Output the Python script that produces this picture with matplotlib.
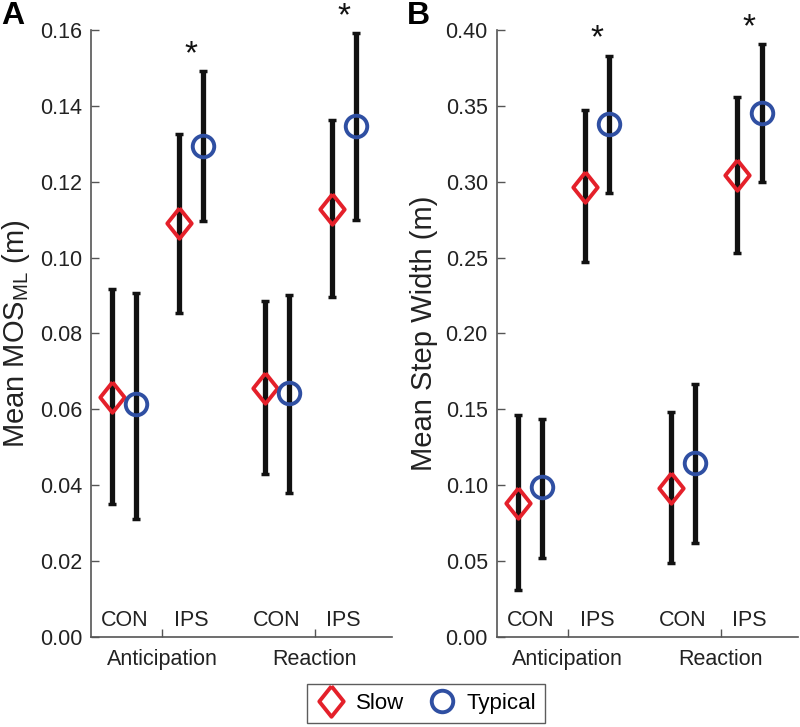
import numpy as np
import matplotlib

matplotlib.use('Agg')
import matplotlib.pyplot as plt
from matplotlib.lines import Line2D
from matplotlib.transforms import blended_transform_factory

plt.rcParams['font.family'] = ['Liberation Sans', 'DejaVu Sans']
plt.rcParams['mathtext.fontset'] = 'custom'
plt.rcParams['mathtext.rm'] = 'Liberation Sans'

# Donnees
conditions = ["CON", "IPS", "CON", "IPS"]
phases = ["Anticipation", "Reaction"]
significant = [False, True, False, True]

# A : MOS medio-lateral (m)
mos_slow_mean = [0.0632, 0.1090, 0.0655, 0.1127]
mos_slow_low = [0.0350, 0.0853, 0.0430, 0.0895]
mos_slow_high = [0.0918, 0.1325, 0.0886, 0.1363]
mos_typ_mean = [0.0613, 0.1295, 0.0642, 0.1347]
mos_typ_low = [0.0310, 0.1096, 0.0379, 0.1098]
mos_typ_high = [0.0907, 0.1491, 0.0902, 0.1591]

# B : largeur de pas (m)
sw_slow_mean = [0.0885, 0.2968, 0.0984, 0.3047]
sw_slow_low = [0.0310, 0.2469, 0.0486, 0.2529]
sw_slow_high = [0.1463, 0.3473, 0.1481, 0.3559]
sw_typ_mean = [0.0986, 0.3381, 0.1145, 0.3455]
sw_typ_low = [0.0519, 0.2924, 0.0617, 0.2996]
sw_typ_high = [0.1439, 0.3829, 0.1667, 0.3906]

RED = '#e4202a'
BLUE = '#2f4fa2'
AXIS = '#555555'

# positions des conditions et des groupes
cond_x = np.array([1.0, 2.0, 3.28, 4.28])
group_x = [1.56, 3.85]
offset = 0.18

# marqueur losange plus haut que large
diamond = [(0, 1), (0.8, 0), (0, -1), (-0.8, 0), (0, 1)]


def draw_panel(ax, slow, typ, ymax, yticks, ylabel):
    for vals, dx, color, marker, ms in [(slow, -offset, RED, diamond, 22),
                                        (typ, offset, BLUE, 'o', 15.5)]:
        mean, low, high = (np.array(v) for v in vals)
        x = cond_x + dx
        ax.errorbar(x, mean, yerr=[mean - low, high - mean], fmt='none',
                    ecolor='#111111', elinewidth=3.8, capsize=3.2, capthick=2.5,
                    zorder=2)
        ax.plot(x, mean, linestyle='none', marker=marker, markersize=ms,
                markerfacecolor='none', markeredgecolor=color,
                markeredgewidth=2.8, zorder=3)

    # etoiles de significativite
    tops = np.maximum(slow[2], typ[2])
    for x, top, sig in zip(cond_x, tops, significant):
        if sig:
            ax.annotate('*', xy=(x, top), xytext=(0, 1), textcoords='offset points',
                        ha='center', va='bottom', fontsize=24, color='#111111',
                        annotation_clip=False)

    ax.set_xlim(0.5, 5.0)
    ax.set_ylim(0, ymax)
    ax.set_yticks(yticks)
    ax.set_yticklabels(['%.2f' % t for t in yticks])
    ax.set_xticks(group_x)
    ax.set_xticklabels(phases)
    ax.tick_params(axis='y', direction='in', length=6, width=1, color=AXIS,
                   labelsize=15.5, pad=6.5, labelcolor='#222222')
    ax.tick_params(axis='x', direction='in', length=6, width=1, color=AXIS,
                   labelsize=15.5, pad=9, labelcolor='#222222')

    trans = blended_transform_factory(ax.transData, ax.transAxes)
    for x, c in zip(cond_x, conditions):
        ax.text(x, 0.01, c, transform=trans, ha='center', va='bottom',
                fontsize=15.5, color='#222222')

    for side in ['top', 'right']:
        ax.spines[side].set_visible(False)
    for side in ['left', 'bottom']:
        ax.spines[side].set_color(AXIS)
        ax.spines[side].set_linewidth(1.2)

    ax.set_ylabel(ylabel, fontsize=21, color='#222222')
    ax.yaxis.set_label_coords(-0.195, 0.5)


fig = plt.figure(figsize=(8, 7.27), dpi=100)
ax_a = fig.add_axes([0.1138, 0.1238, 0.376, 0.835])
ax_b = fig.add_axes([0.621, 0.1238, 0.376, 0.835])

draw_panel(ax_a, (mos_slow_mean, mos_slow_low, mos_slow_high),
           (mos_typ_mean, mos_typ_low, mos_typ_high),
           0.16, np.arange(0, 0.161, 0.02), r'Mean MOS$_{\mathregular{ML}}$ (m)')
draw_panel(ax_b, (sw_slow_mean, sw_slow_low, sw_slow_high),
           (sw_typ_mean, sw_typ_low, sw_typ_high),
           0.40, np.arange(0, 0.401, 0.05), 'Mean Step Width (m)')

fig.text(0.001, 0.999, 'A', fontsize=23, fontweight='bold', va='top', ha='left')
fig.text(0.508, 0.999, 'B', fontsize=23, fontweight='bold', va='top', ha='left')

handles = [
    Line2D([], [], linestyle='none', marker=diamond, markersize=22,
           markerfacecolor='none', markeredgecolor=RED, markeredgewidth=2.8),
    Line2D([], [], linestyle='none', marker='o', markersize=15.5,
           markerfacecolor='none', markeredgecolor=BLUE, markeredgewidth=2.8),
]
leg = fig.legend(handles, ['Slow', 'Typical'], loc='center',
                 bbox_to_anchor=(0.532, 0.032), ncol=2, fontsize=16,
                 frameon=True, fancybox=False, handletextpad=0.4,
                 columnspacing=1.0, borderpad=0.4, handlelength=1.4)
leg.get_frame().set_edgecolor('#333333')
leg.get_frame().set_linewidth(1.0)

fig.savefig('out.png', dpi=100)
